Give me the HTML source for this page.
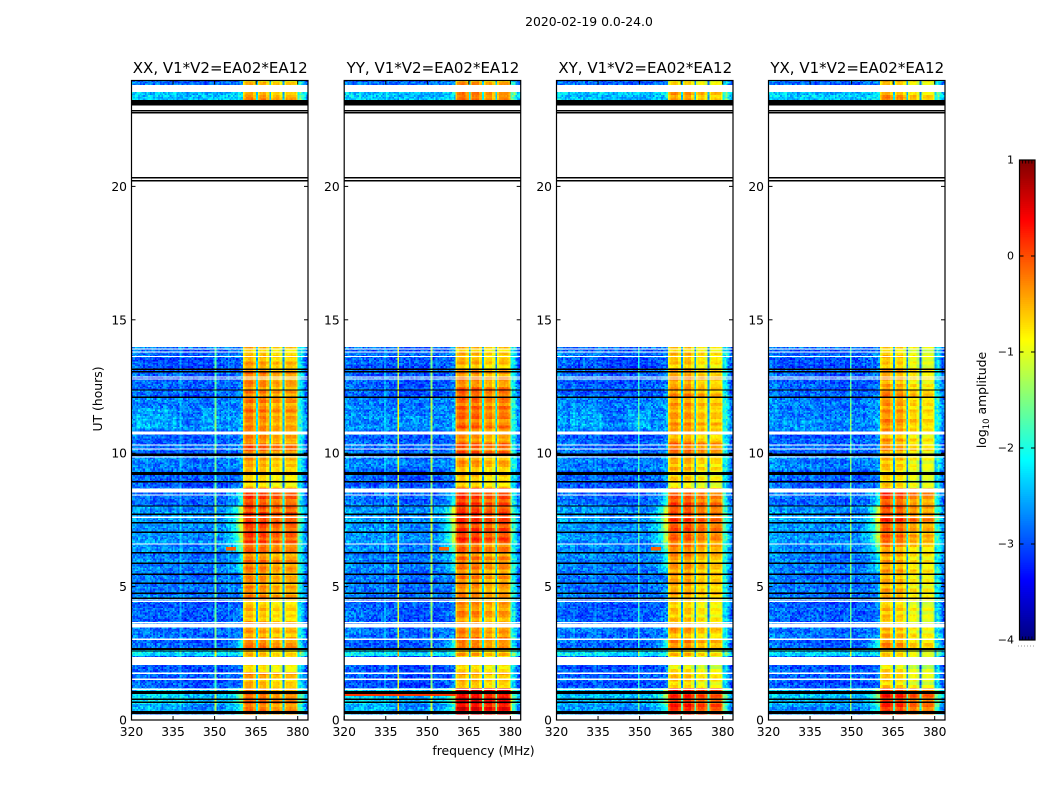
<!DOCTYPE html>
<html>
<head>
<meta charset="utf-8">
<title>Dynamic spectra 2020-02-19</title>
<style>
html,body{margin:0;padding:0;background:#fff;}
svg{display:block;}
text{font-family:"DejaVu Sans","Liberation Sans",sans-serif;fill:#000;}
</style>
</head>
<body>
<svg id="figure" xmlns="http://www.w3.org/2000/svg" width="1050" height="800" viewBox="0 0 1050 800">
  <rect x="0" y="0" width="1050" height="800" fill="#fff"/>
  <text x="589" y="26" font-size="12.4" text-anchor="middle">2020-02-19 0.0-24.0</text>
  <text x="483.5" y="755" font-size="12.4" text-anchor="middle">frequency (MHz)</text>
  <text x="0" y="0" font-size="12.4" text-anchor="middle" transform="translate(102,399) rotate(-90)">UT (hours)</text>
  <text x="0" y="0" font-size="12.4" text-anchor="middle" transform="translate(986,400) rotate(-90)">log<tspan font-size="8.5" dy="3">10</tspan><tspan dy="-3"> amplitude</tspan></text>
  <g id="panels"></g>
  <g id="colorbar"></g>
</svg>
<script>
// ---- Labels and ticks ----
const panelTitles = ["XX, V1*V2=EA02*EA12", "YY, V1*V2=EA02*EA12", "XY, V1*V2=EA02*EA12", "YX, V1*V2=EA02*EA12"];
const freqTicks = [320, 335, 350, 365, 380];
const hourTicks = [0, 5, 10, 15, 20];
const colorTicks = [-4, -3, -2, -1, 0, 1];

// ---- Time segments: start hour and log10 amplitude levels ----
const segmentStart = [0.0, 0.6, 1.18, 1.55, 1.78, 2.37, 2.66, 3.05, 3.62, 4.5, 5.5, 6.2, 6.6, 7.4, 7.7, 8.0, 8.68, 9.3, 9.85, 10.35, 10.81, 11.4, 12.1, 12.4, 13.14, 13.55];
const segmentEnd = 13.95;
const lowLevel = [-2.65, -2.45, -2.95, -2.9, -2.95, -2.25, -2.9, -2.8, -2.9, -2.8, -2.75, -2.7, -2.65, -2.6, -2.65, -2.85, -2.9, -2.75, -2.85, -2.9, -2.7, -2.75, -2.9, -2.9, -2.95, -2.85];
const wingLevel = [0.4, 0.6, 0, 0, 0, 0, 0.5, 0, 0, 0, 0.3, 0.6, 0.9, 1, 0.9, 0.4, 0, 0, 0, 0, 0, 0, 0, 0, 0, 0];
const highXX = [-0.05, -0.05, -0.45, -0.3, -0.6, -0.4, -0.15, -0.3, -0.45, -0.25, -0.15, -0.05, 0.15, 0.2, 0.15, 0.1, -0.55, -0.35, -0.05, -0.25, -0.2, -0.15, -0.2, -0.2, -0.35, -0.5];
const highYY = [0.5, 0.5, -0.5, -0.35, -0.6, -0.4, -0.2, -0.2, -0.3, -0.25, -0.2, -0.1, 0.15, 0.25, 0.1, 0.15, -0.55, -0.4, 0, -0.25, -0.1, -0.1, 0, -0.25, -0.5, -0.5];
const highXY = [0.3, 0.3, -0.55, -0.45, -0.7, -0.5, -0.2, -0.35, -0.5, -0.3, -0.25, -0.15, 0.05, 0.2, 0.1, 0.1, -0.6, -0.4, -0.05, -0.3, -0.25, -0.3, -0.2, -0.3, -0.45, -0.5];
const highYX = [0.25, 0.25, -0.6, -0.5, -0.75, -0.5, -0.35, -0.45, -0.55, -0.45, -0.4, -0.35, -0.05, 0.15, 0, 0.05, -0.65, -0.55, -0.35, -0.4, -0.3, -0.3, -0.3, -0.4, -0.55, -0.6];

// Late-day strip near the top of each panel
const topStart = [23.24, 23.8];
const topEnd = [23.54, 23.95];
const topLow = [-2.4, -2.85];
const topHigh = [[-0.3, -0.5], [-0.15, -0.4], [-0.3, -0.5], [-0.35, -0.55]];

// ---- Per-channel offsets in 0.8 MHz bins, 320 to 384 MHz ----
const lowProfile = [0.1, 0.15, 0.05, 0.1, 0.05, 0, 0.05, 0.1, 0, 0.05, -0.05, 0, 0.05, -0.05, 0, 0.05, 0, -0.05, 0, 0.05, -0.05, -0.05, 0, 0, -0.1, -0.05, 0, -0.05, -0.1, -0.05, -0.1, 0, -0.05, -0.1, -0.05, 0, -0.1, -0.05, 0, -0.05, -0.05, 0, 0, 0, 0.05, 0, 0.05, 0.05, 0.1, 0.2, 0, 0, 0, 0, 0, 0, 0, 0, 0, 0, 0, 0, 0, 0, 0, 0, 0, 0, 0, 0, 0, 0, 0, 0, 0, 0, 0.75, 0.35, 0.05, -0.05];
const wingProfile = [0.05, 0.1, 0.15, 0.25, 0.4, 0.6, 0.85, 1.1];
const wingFirstBin = 42;
const highFirstBin = 50;
const highProfile = [-0.5, -0.2, -0.1, -0.05, -0.1, -0.35, -2.1, -0.4, -0.1, -0.05, -0.05, -0.35, -2.1, -0.4, -0.15, -0.1, -0.1, -0.4, -2.1, -0.4, -0.15, -0.1, -0.1, -0.15, -0.35, -1.6];
const blockOffset = [[0.05, 0, -0.1, -0.1], [0.1, 0.05, -0.05, 0], [0, 0, -0.15, -0.2], [0.1, 0, -0.2, -0.3]];

// Vertical interference lines, per panel
const spikeFreq = [[350.1, 337.5, 355], [339.6, 351.5, 334.5], [349.5, 334], [349.6, 340]];
const spikeGain = [[1.2, 0.35, 0.3], [1.8, 1.5, 0.35], [1.0, 0.2], [1.2, 0.15]];

// Brighter patches in the low band, per panel: hours, MHz range, gain
const patchHourStart = [[10.9, 10.9, 0.2], [10.9, 0.3], [10.9, 10.9], [10.9]];
const patchHourEnd = [[11.7, 11.7, 1.1], [11.4, 1.0], [11.6, 11.6], [11.2]];
const patchFreqStart = [[322, 345, 322], [340, 322], [325, 346], [328]];
const patchFreqEnd = [[336, 352, 340], [350, 338], [336, 354], [338]];
const patchGain = [[0.2, 0.22, 0.18], [0.12, 0.15], [0.18, 0.28], [0.1]];

// Hot horizontal streaks, per panel: hours and MHz range
const hotStart = [[6.36], [0.93, 6.36], [6.36], []];
const hotEnd = [[6.42], [0.99, 6.42], [6.42], []];
const hotFreqStart = [[354], [320, 354], [354], []];
const hotFreqEnd = [[358], [360, 358], [358], []];
const hotValue = [[-0.1], [0.1, -0.1], [-0.1], []];

// ---- Fine texture values (log10 offsets ×20) and row stripes ----
const speckle = [3,-5,7,-2,-8,1,9,-4,0,-7,5,-1,-9,4,2,-6,8,-3,1,-8,6,0,-5,3,-2,-9,7,2,-4,5,-7,0,8,-1,-6,3,-3,9,-8,1,4,-5,-2,6,-9,0,7,-4,2,-1,-7,5,1,-3,8,-6,0,4,-8,2,-2,6,-5,9,-1,-7,3,0,-4,7,-9,1,5,-2,-6,2,8,-3,-8,4,0,-5,6,-1,3,-7,9,-4,1,-2,-9,5,2,-6,7,-3,0,-8,4,-1,6];
const rowStripe = [0.1, -0.15, 0.2, -0.05, -0.2, 0.15, 0.05, -0.1, 0.2, -0.2, 0.05, 0.1, -0.15, 0, 0.2, -0.1, -0.05, 0.15, -0.2, 0.1, 0, -0.15, 0.2, 0.05, -0.1, 0.15, -0.2, 0.1, -0.05, 0, 0.2, -0.15, 0.05, -0.1, 0.15, -0.05, -0.2, 0.1, 0.2, -0.1, 0, 0.15, -0.2, 0.05, 0.1, -0.15, 0];

// ---- Flagged data (hours) ----
const whiteStart = [0, 1.13, 1.5, 1.73, 2.06, 3.0, 3.46, 3.64, 4.42, 4.48, 6.58, 7.58, 8.42, 8.52, 9.83, 10.13, 10.29, 10.71, 12.76, 12.83, 13.6, 13.78, 13.88];
const whiteEnd = [0.2, 1.18, 1.55, 1.78, 2.37, 3.05, 3.62, 3.68, 4.46, 4.52, 6.62, 7.62, 8.46, 8.68, 9.87, 10.17, 10.33, 10.81, 12.8, 12.87, 13.64, 13.82, 13.92];
const blackHours = [0.25, 0.31, 0.66, 0.78, 1.0, 1.06, 4.56, 4.75, 5.12, 5.46, 5.87, 6.27, 7.03, 7.4, 8.02, 8.93, 9.21, 9.27, 9.92, 9.97, 12.1, 12.37, 13.06, 13.14, 22.76, 22.84];
const blackBandStart = [23.03, 20.18, 20.3, 7.68, 2.56, 2.63];
const blackBandEnd = [23.24, 20.24, 20.36, 7.74, 2.61, 2.69];

// ---- Axis functions ----
const panelLeft = [131.5, 344.2, 556.5, 768.5];
const panelWidth = 176.5;
const plotTop = 80.5, plotBottom = 720;
const xScale = (p, f) => panelLeft[p] + (f - 320) * 2.77;
const yScale = h => 720 - h * 26.68;
const cScale = v => 640 - (v + 4) * 96;

function jet(v) {
  const t = Math.min(1, Math.max(0, (v + 4) / 5));
  const ch = d => Math.round(255 * Math.min(1, Math.max(0, 1.5 - Math.abs(4 * t - d))));
  return 'rgb(' + ch(3) + ',' + ch(2) + ',' + ch(1) + ')';
}

const NS = 'http://www.w3.org/2000/svg';
function mk(tag, attrs, parent) {
  const e = document.createElementNS(NS, tag);
  for (const k in attrs) e.setAttribute(k, attrs[k]);
  parent.appendChild(e);
  return e;
}

const highByPanel = [highXX, highYY, highXY, highYX];
const profileMHz = 0.8, cellMHz = 0.6, rowHours = 0.06;
const cellCount = Math.ceil(64 / cellMHz);
const panelsRoot = document.getElementById('panels');
const svgRoot = document.getElementById('figure');
const defs = mk('defs', {}, svgRoot);

function isWhite(h) {
  for (let i = 0; i < whiteStart.length; i++) {
    if (h >= whiteStart[i] && h + rowHours <= whiteEnd[i]) return true;
  }
  return false;
}

function cellValue(p, col, row, h, low, wing, high) {
  const f = 320 + col * cellMHz;
  const fc = f + cellMHz / 2;
  const bin = Math.min(lowProfile.length - 1, Math.floor((fc - 320) / profileMHz));
  const sp = speckle[(col * 37 + (row * row % 53) * 11 + row * 19 + p * 29) % speckle.length] / 20;
  const stripe = rowStripe[(Math.floor(row / 2) + p * 5) % rowStripe.length];
  let v = low + lowProfile[bin] + sp * 0.85 + stripe * 0.35;
  for (let k = 0; k < patchHourStart[p].length; k++) {
    if (h >= patchHourStart[p][k] && h < patchHourEnd[p][k] && fc >= patchFreqStart[p][k] && fc < patchFreqEnd[p][k]) v += patchGain[p][k];
  }
  if (bin >= wingFirstBin && bin < highFirstBin) {
    v += wing * wingProfile[bin - wingFirstBin] * 1.3 * (1 - sp * 0.3);
  }
  if (h < segmentEnd) {
    const fs = spikeFreq[p];
    for (let s = 0; s < fs.length; s++) {
      if (Math.abs(fs[s] - fc) <= cellMHz / 2) v = low + spikeGain[p][s] + sp * 0.5;
    }
  }
  const hb = bin - highFirstBin;
  if (hb >= 0 && hb < highProfile.length) {
    const block = hb < 7 ? 0 : hb < 13 ? 1 : hb < 19 ? 2 : 3;
    v = high + highProfile[hb] + blockOffset[p][block] + sp * 0.2 + stripe * 0.9;
  }
  for (let k = 0; k < hotStart[p].length; k++) {
    if (fc >= hotFreqStart[p][k] && fc < hotFreqEnd[p][k] && h + rowHours > hotStart[p][k] && h < hotEnd[p][k]) v = hotValue[p][k];
  }
  return v;
}

function drawRow(group, p, row, h, low, wing, high) {
  const y1 = yScale(h), y0 = yScale(h + rowHours);
  for (let col = 0; col < cellCount; col++) {
    const x0 = xScale(p, 320 + col * cellMHz), x1 = xScale(p, 320 + (col + 1) * cellMHz);
    const cell = document.createElementNS(NS, 'rect');
    
    
    cell.setAttribute('x', x0);
    cell.setAttribute('y', y0);
    cell.setAttribute('width', x1 - x0);
    cell.setAttribute('height', y1 - y0);
    cell.setAttribute('fill', jet(cellValue(p, col, row, h, low, wing, high)));
    group.appendChild(cell);
  }
}

panelTitles.forEach(function (title, p) {
  const left = panelLeft[p], right = left + panelWidth;
  const panel = mk('g', {}, panelsRoot);
  
  

  const clip = mk('clipPath', { id: 'clip' + p }, defs);
  mk('rect', { x: left, y: plotTop, width: panelWidth, height: plotBottom - plotTop }, clip);

  const heat = mk('g', { 'clip-path': 'url(#clip' + p + ')', 'shape-rendering': 'crispEdges' }, panel);
  
  

  let row = 0;
  for (let h = 0; h < segmentEnd; h += rowHours, row++) {
    if (isWhite(h)) continue;
    let s = 0;
    while (s + 1 < segmentStart.length && segmentStart[s + 1] <= h) s++;
    drawRow(heat, p, row, h, lowLevel[s], wingLevel[s], highByPanel[p][s]);
  }
  topStart.forEach(function (st, t) {
    for (let h = st; h < topEnd[t] - 0.01; h += rowHours, row++) {
      drawRow(heat, p, row, h, topLow[t], 0, topHigh[p][t]);
    }
  });

  whiteStart.forEach(function (st, i) {
    const band = document.createElementNS(NS, 'rect');
    
    
    band.setAttribute('x', left);
    band.setAttribute('y', yScale(whiteEnd[i]));
    band.setAttribute('width', panelWidth);
    band.setAttribute('height', yScale(st) - yScale(whiteEnd[i]));
    band.setAttribute('fill', '#fff');
    heat.appendChild(band);
  });
  blackHours.forEach(function (bh) {
    const line = document.createElementNS(NS, 'rect');
    
    
    line.setAttribute('x', left);
    line.setAttribute('y', yScale(bh) - 0.7);
    line.setAttribute('width', panelWidth);
    line.setAttribute('height', 1.4);
    line.setAttribute('fill', '#000');
    heat.appendChild(line);
  });
  blackBandStart.forEach(function (st, i) {
    const band = document.createElementNS(NS, 'rect');
    
    
    band.setAttribute('x', left);
    band.setAttribute('y', yScale(blackBandEnd[i]));
    band.setAttribute('width', panelWidth);
    band.setAttribute('height', yScale(st) - yScale(blackBandEnd[i]));
    band.setAttribute('fill', '#000');
    heat.appendChild(band);
  });

  freqTicks.forEach(function (f) {
    const x = xScale(p, f);
    const t1 = mk('line', { x1: x, x2: x, y1: plotBottom, y2: plotBottom - 4, stroke: '#000', 'stroke-width': 1 }, panel);
    
    
    const t2 = mk('line', { x1: x, x2: x, y1: plotTop, y2: plotTop + 4, stroke: '#000', 'stroke-width': 1 }, panel);
    
    
    const lab = mk('text', { x: x, y: 736, 'font-size': 12.3, 'text-anchor': 'middle' }, panel);
    
    
    lab.textContent = String(f);
  });
  hourTicks.forEach(function (h) {
    const y = yScale(h);
    const t1 = mk('line', { x1: left, x2: left + 4, y1: y, y2: y, stroke: '#000', 'stroke-width': 1 }, panel);
    
    
    const t2 = mk('line', { x1: right, x2: right - 4, y1: y, y2: y, stroke: '#000', 'stroke-width': 1 }, panel);
    
    
    const lab = mk('text', { x: left - 4.5, y: y + 4.5, 'font-size': 12.3, 'text-anchor': 'end' }, panel);
    
    
    lab.textContent = String(h);
  });

  const frame = mk('rect', { x: left, y: plotTop, width: panelWidth, height: plotBottom - plotTop, fill: 'none', stroke: '#000', 'stroke-width': 1.2 }, panel);
  
  
  const ttl = mk('text', { x: left + panelWidth / 2 + 0.5, y: 73, 'font-size': 15, 'text-anchor': 'middle' }, panel);
  
  
  ttl.textContent = title;
});

// ---- Colorbar ----
const cbRoot = document.getElementById('colorbar');
const cbLeft = 1019.5, cbWidth = 15.5;
const cbGroup = mk('g', { 'shape-rendering': 'crispEdges' }, cbRoot);


for (let v = -4; v < 1; v += 0.02) {
  const s = document.createElementNS(NS, 'rect');
  
  
  s.setAttribute('x', cbLeft);
  s.setAttribute('y', cScale(v + 0.02));
  s.setAttribute('width', cbWidth);
  s.setAttribute('height', cScale(v) - cScale(v + 0.02));
  s.setAttribute('fill', jet(v + 0.01));
  cbGroup.appendChild(s);
}
colorTicks.forEach(function (v) {
  const y = cScale(v);
  const a = mk('line', { x1: cbLeft, x2: cbLeft + 4, y1: y, y2: y, stroke: '#000', 'stroke-width': 1 }, cbRoot);
  
  
  const b = mk('line', { x1: cbLeft + cbWidth, x2: cbLeft + cbWidth - 4, y1: y, y2: y, stroke: '#000', 'stroke-width': 1 }, cbRoot);
  
  
  const lab = mk('text', { x: 1014, y: y + 3.5, 'font-size': 11, 'text-anchor': 'end' }, cbRoot);
  
  
  lab.textContent = String(v).replace('-', '\u2212');
});
for (let k = 0; k <= 5; k++) {
  const x = cbLeft + cbWidth * k / 5;
  const top = mk('line', { x1: x, x2: x, y1: 160, y2: 163.5, stroke: '#000', 'stroke-width': 0.8 }, cbRoot);
  
  
  const bot = mk('line', { x1: x, x2: x, y1: 640, y2: 636.5, stroke: '#000', 'stroke-width': 0.8 }, cbRoot);
  
  
}
const cbFrame = mk('rect', { x: cbLeft, y: 160, width: cbWidth, height: 480, fill: 'none', stroke: '#000', 'stroke-width': 1.2 }, cbRoot);


const cbDots = mk('line', { x1: 1018, x2: 1035, y1: 646, y2: 646, stroke: '#999', 'stroke-width': 1, 'stroke-dasharray': '1 2' }, cbRoot);


</script>
</body>
</html>
